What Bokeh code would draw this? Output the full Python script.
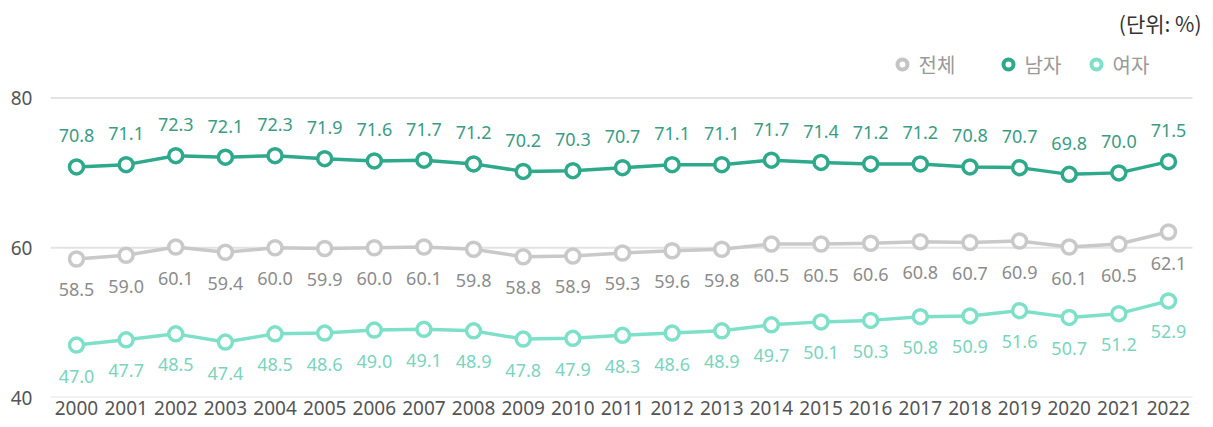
from bokeh.plotting import figure
from bokeh.models import ColumnDataSource, Range1d, FixedTicker
from bokeh.core.properties import value
from bokeh.embed import file_html
from bokeh.resources import INLINE

years = list(range(2000, 2023))
total = [58.5, 59.0, 60.1, 59.4, 60.0, 59.9, 60.0, 60.1, 59.8, 58.8, 58.9, 59.3,
         59.6, 59.8, 60.5, 60.5, 60.6, 60.8, 60.7, 60.9, 60.1, 60.5, 62.1]
male = [70.8, 71.1, 72.3, 72.1, 72.3, 71.9, 71.6, 71.7, 71.2, 70.2, 70.3, 70.7,
        71.1, 71.1, 71.7, 71.4, 71.2, 71.2, 70.8, 70.7, 69.8, 70.0, 71.5]
female = [47.0, 47.7, 48.5, 47.4, 48.5, 48.6, 49.0, 49.1, 48.9, 47.8, 47.9, 48.3,
          48.6, 48.9, 49.7, 50.1, 50.3, 50.8, 50.9, 51.6, 50.7, 51.2, 52.9]
series_names = ["전체", "남자", "여자"]
y_ticks = [40, 60, 80]
unit_text = "(단위: %)"

FONT = "Noto Sans CJK KR"
NUMFONT = "Noto Sans"

# pixel geometry of the frame
W, H = 1213, 427
FL, FB = 50, 397          # frame left / bottom (px)
X0PX, STEP = 76, 49.636   # px of 2000, px per year
Y80PX = 97.5
PPU = (FB - Y80PX) / 40.0  # px per percent


def dx(px):
    return 2000 + (px - X0PX) / STEP


def dy(py):
    return 40 + (FB - py) / PPU


p = figure(width=W, height=H, output_backend="svg", toolbar_location=None,
           x_range=Range1d(dx(FL), dx(W)), y_range=Range1d(40, dy(0)),
           min_border_left=FL, min_border_right=0, min_border_top=0,
           min_border_bottom=H - FB)
p.outline_line_color = None
p.background_fill_color = "white"
p.border_fill_color = "white"

# axes
p.xaxis.ticker = FixedTicker(ticks=years)
p.yaxis.ticker = FixedTicker(ticks=y_ticks)
for ax in (p.xaxis[0], p.yaxis[0]):
    ax.axis_line_color = None
    ax.major_tick_line_color = None
    ax.minor_tick_line_color = None
    ax.major_tick_in = 0
    ax.major_tick_out = 0
    ax.major_label_text_font = NUMFONT
    ax.major_label_text_font_size = "19px"
    ax.major_label_text_color = "#555555"
p.xaxis.major_label_standoff = 3
p.yaxis.major_label_standoff = 18
p.xgrid.grid_line_color = None
p.ygrid.grid_line_color = None

# horizontal gridlines (stop short of the right edge like the reference)
p.segment(x0=[dx(FL)] * len(y_ticks), x1=[dx(1192)] * len(y_ticks), y0=y_ticks, y1=y_ticks,
          line_color="#e3e3e3", line_width=2)

src = ColumnDataSource(dict(
    x=years, total=total, male=male, female=female,
    tl=[f"{v:.1f}" for v in total], ml=[f"{v:.1f}" for v in male], fl=[f"{v:.1f}" for v in female]))

styles = [
    ("total", "tl", "#c9c9c9", "#8c8c8c", 31),
    ("male", "ml", "#2fa98b", "#3a9c85", -31),
    ("female", "fl", "#7fe0c9", "#7ad4be", 31),
]
for col, lab, lc, tc, off in styles:
    p.line("x", col, source=src, line_color=lc, line_width=3.5)
    p.scatter("x", col, source=src, size=14, fill_color="white", line_color=lc, line_width=3.5)
    p.text("x", col, text=lab, source=src, text_align="center", text_baseline="middle",
           y_offset=off, text_color=tc, text_font=value(NUMFONT), text_font_size="18px")

# legend
leg_colors = ["#c4c4c4", "#2fa98b", "#7fe0c9"]
leg_mx = [902, 1008, 1096]
leg_src = ColumnDataSource(dict(
    x=[dx(v) for v in leg_mx], tx=[dx(v + 16) for v in leg_mx], y=[dy(64)] * 3,
    c=leg_colors, t=series_names))
p.scatter("x", "y", source=leg_src, size=10, fill_color="white", line_color="c", line_width=4)
p.text("tx", "y", text="t", source=leg_src, text_align="left", text_baseline="middle",
       text_color="#9a9a9a", text_font=value(FONT), text_font_size="20px")

# unit note
p.text(x=[dx(1201)], y=[dy(22)], text=[unit_text], text_align="right", text_baseline="middle",
       text_color="#333333", text_font=value(FONT), text_font_size="21px")

open("out.html", "w").write(file_html(p, INLINE))
